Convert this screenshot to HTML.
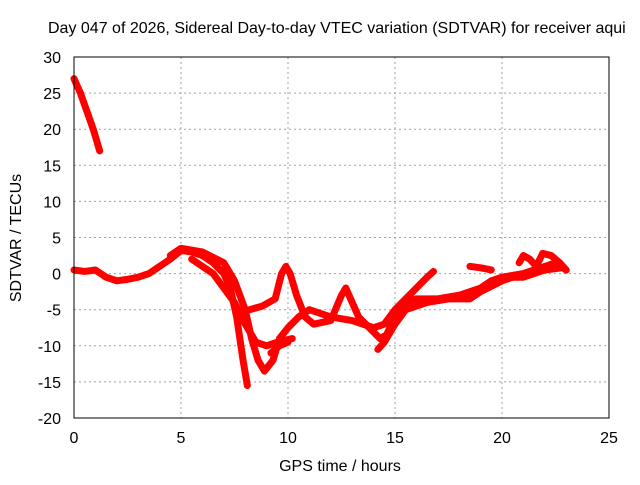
<!DOCTYPE html>
<html><head><meta charset="utf-8"><style>
body{margin:0;background:#fff;}
svg text{font-family:"Liberation Sans",sans-serif;font-size:16px;fill:#000;}
</style></head><body>
<svg id="chart" width="640" height="480">
<rect width="640" height="480" fill="#fff"/>
<text x="48" y="33">Day 047 of 2026, Sidereal Day-to-day VTEC variation (SDTVAR) for receiver aqui</text>
<g id="grid"></g>
<g id="series"></g>
<rect x="74" y="57" width="535" height="361" fill="none" stroke="#000"/>
<g id="ticks"></g>
<text x="340" y="471" text-anchor="middle">GPS time / hours</text>
<text transform="translate(21,238) rotate(-90)" text-anchor="middle">SDTVAR / TECUs</text>
</svg>
<script>
const xTicks=[0,5,10,15,20,25];
const yTicks=[30,25,20,15,10,5,0,-5,-10,-15,-20];
const track1=[[0,27],[0.3,25],[0.6,22.5],[0.9,20],[1.2,17]];
const track2=[[0,0.5],[0.5,0.3],[1,0.5],[1.5,-0.5],[2,-1],[2.5,-0.8],[3,-0.5],[3.5,0],[4,1],[4.5,2],[5,3.2],[5.5,3],[6,2.5],[6.5,1.5],[7,0],[7.3,-2],[7.6,-6],[7.9,-12],[8.1,-15.5]];
const track3=[[4.5,2.5],[5,3.5],[6,3],[7,1.5],[7.5,-1],[8,-5],[8.3,-9],[8.6,-12],[8.9,-13.5],[9.3,-12],[9.6,-9],[10,-7.5],[10.5,-6],[11,-5],[12,-6],[13,-6.5],[13.5,-7],[14,-7.5],[14.5,-7],[15,-5],[15.5,-3.5],[16,-2],[16.5,-0.5],[16.8,0.3]];
const track4=[[5.5,2],[6.5,0],[7,-2],[7.5,-4],[8,-7],[8.5,-9.5],[9,-10],[9.5,-9.5],[10.2,-9]];
const track5=[[8.2,-5],[8.8,-4.5],[9.4,-3.5],[9.7,0],[9.9,1],[10.1,0],[10.4,-3],[10.8,-6],[11.2,-7],[12,-6.5],[12.5,-3],[12.7,-2],[13,-4],[13.3,-6],[13.8,-7.5],[14.3,-9],[14.6,-8.5],[15,-6],[15.5,-4],[16,-3.5],[17,-3.5],[18,-3],[18.5,-2.5],[19,-2],[19.5,-1],[20,-0.5],[21,0],[21.5,0.5],[22,1],[22.5,1.5],[23,0.5]];
const track6=[[9.2,-11],[9.6,-10],[10,-9.5]];
const track7=[[14.2,-10.5],[14.5,-9.5],[15,-7],[15.5,-5],[16.5,-4],[17.5,-3.5],[18.5,-3.5],[19,-2.5],[20,-1],[20.5,-0.5],[21,-0.5],[21.5,0],[22,0.5],[22.8,0.8]];
const track8=[[18.5,1],[19,0.8],[19.5,0.5]];
const track9=[[20.8,1.5],[21,2.5],[21.3,2],[21.6,1],[21.9,2.8],[22.3,2.5],[22.7,1.5],[23,0.5]];
const tracks=[track1,track2,track3,track4,track5,track6,track7,track8,track9];
const X=v=>74+v*(535/25), Y=v=>418-(v+20)*(361/50);
const NS='http://www.w3.org/2000/svg';
const g=document.getElementById('grid'),t=document.getElementById('ticks'),s=document.getElementById('series');
function mk(tag,at,p){const e=document.createElementNS(NS,tag);for(const k in at)e.setAttribute(k,at[k]);p.appendChild(e);return e;}
xTicks.forEach(v=>{
 const l=mk('line',{x1:X(v),x2:X(v),y1:57,y2:418,stroke:'#a0a0a0','stroke-dasharray':'2,3'},g);
 
 
 const tx=mk('text',{x:X(v),y:443,'text-anchor':'middle'},t);tx.textContent=v;
 
 
});
yTicks.forEach(v=>{
 const l=mk('line',{x1:74,x2:609,y1:Y(v),y2:Y(v),stroke:'#a0a0a0','stroke-dasharray':'2,3'},g);
 
 
 const tx=mk('text',{x:61,y:Y(v)+6,'text-anchor':'end'},t);tx.textContent=v;
 
 
});
tracks.forEach(tr=>{
 const p=mk('polyline',{points:tr.map(d=>X(d[0])+','+Y(d[1])).join(' '),fill:'none',stroke:'#f00','stroke-width':7,'stroke-linejoin':'round','stroke-linecap':'round'},s);
 
 
});
</script>
</body></html>
